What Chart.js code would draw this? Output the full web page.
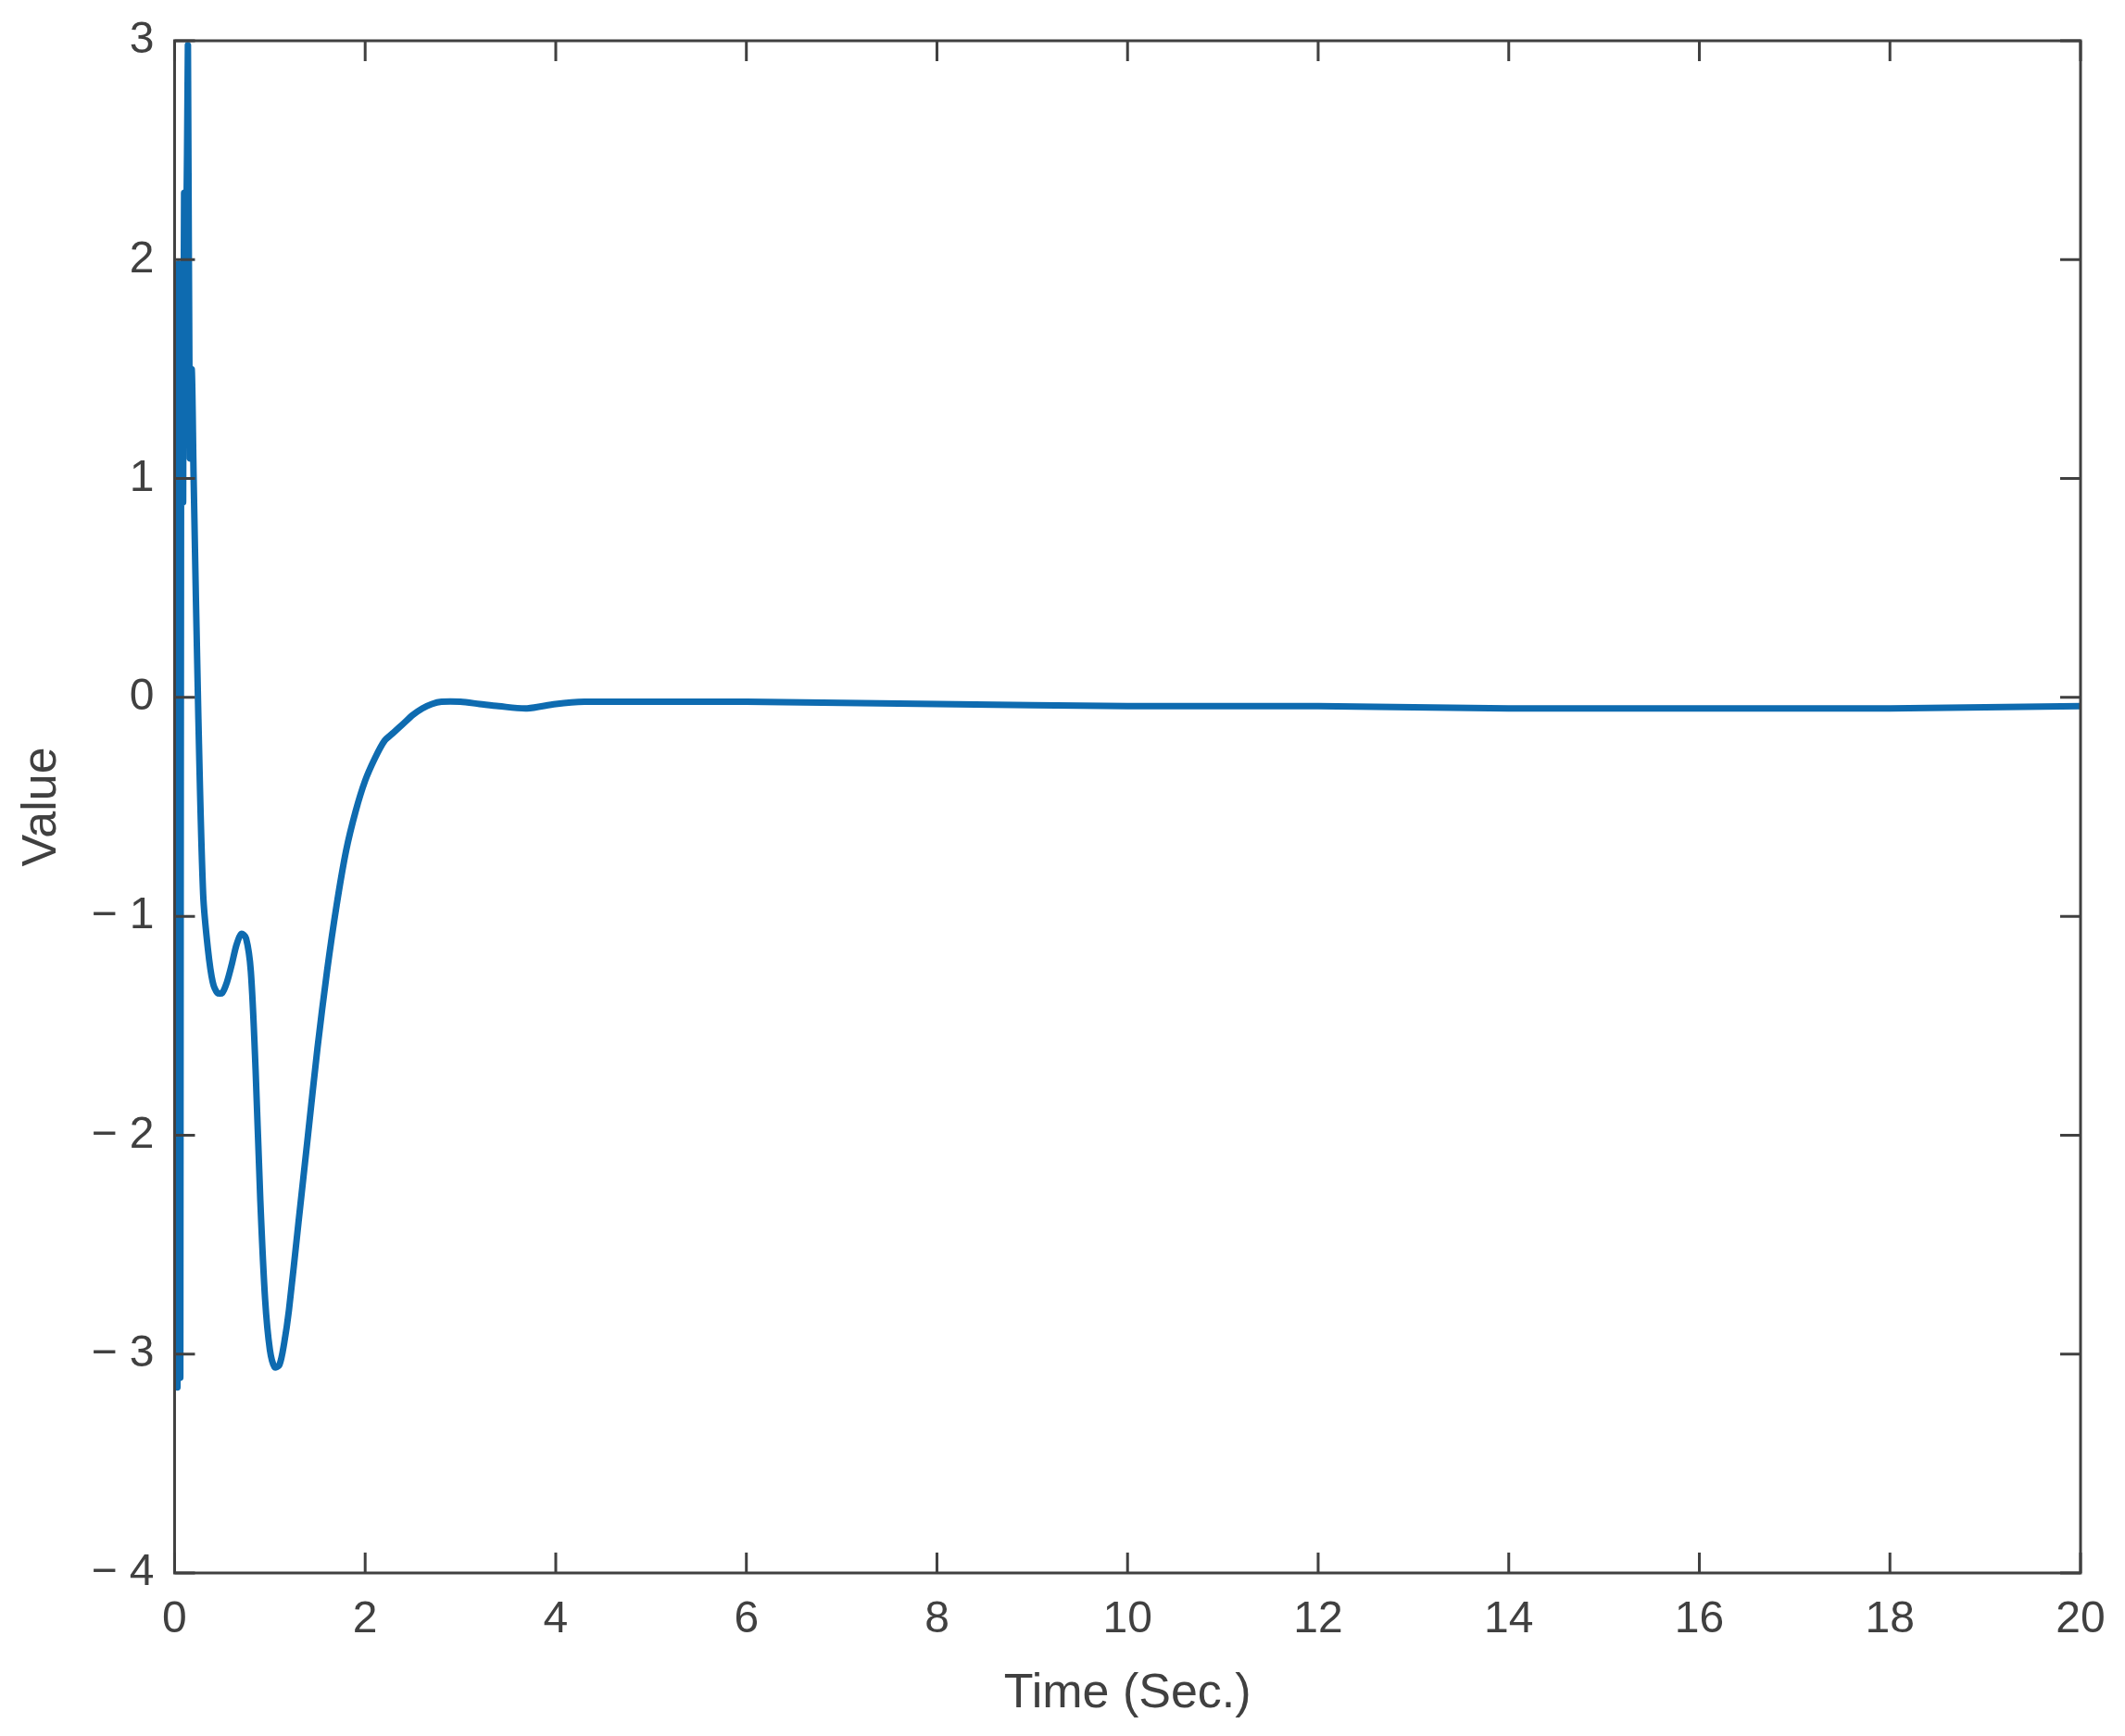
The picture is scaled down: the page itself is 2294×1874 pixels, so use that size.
<!DOCTYPE html>
<html>
<head>
<meta charset="utf-8">
<script src="https://cdn.jsdelivr.net/npm/chart.js@4.4.0/dist/chart.umd.min.js"></script>
<style>
  html, body { margin: 0; padding: 0; background: #fff; }
  #wrap { width: 2294px; height: 1874px; }
</style>
</head>
<body>
<div id="wrap"><canvas id="grafico" width="2294" height="1874"></canvas></div>
<script>
// Dados
const tempo = [0, 0.01, 0.02, 0.03, 0.04, 0.05, 0.06, 0.07, 0.08, 0.09, 0.1, 0.12, 0.14, 0.16, 0.18, 0.2, 0.25, 0.3, 0.35, 0.4, 0.45, 0.5, 0.55, 0.6, 0.65, 0.7, 0.75, 0.8, 0.85, 0.9, 0.95, 1.0, 1.05, 1.1, 1.15, 1.2, 1.3, 1.4, 1.5, 1.6, 1.7, 1.8, 1.9, 2.0, 2.1, 2.2, 2.3, 2.4, 2.5, 2.6, 2.7, 2.8, 3.0, 3.2, 3.4, 3.7, 4.0, 4.3, 5, 6, 8, 10, 12, 14, 16, 18, 20];
const valor = [0, 1.95, 1.2, -3.15, 1.95, 0.5, -3.1, 1.9, 1.2, 0.9, 2.3, 2.0, 2.98, 1.1, 1.5, 1.0, -0.1, -0.9, -1.15, -1.3, -1.35, -1.35, -1.3, -1.22, -1.13, -1.08, -1.1, -1.25, -1.7, -2.3, -2.75, -2.98, -3.06, -3.05, -2.95, -2.8, -2.4, -2.0, -1.6, -1.25, -0.95, -0.7, -0.52, -0.38, -0.28, -0.2, -0.16, -0.12, -0.08, -0.05, -0.03, -0.02, -0.02, -0.03, -0.04, -0.05, -0.03, -0.02, -0.02, -0.02, -0.03, -0.04, -0.04, -0.05, -0.05, -0.05, -0.04];
const ticksX = [0, 2, 4, 6, 8, 10, 12, 14, 16, 18, 20];
const ticksY = [-4, -3, -2, -1, 0, 1, 2, 3];

const cinza = '#404040';

// Moldura e marcas internas ao estilo MATLAB
const moldura = {
  id: 'moldura',
  afterDraw(chart) {
    const { ctx, chartArea: a, scales: { x, y } } = chart;
    ctx.save();
    ctx.strokeStyle = cinza;
    ctx.lineWidth = 3;
    ctx.strokeRect(a.left, a.top, a.right - a.left, a.bottom - a.top);
    const L = 22;
    ticksX.forEach(v => {
      const px = x.getPixelForValue(v);
      ctx.beginPath();
      ctx.moveTo(px, a.bottom); ctx.lineTo(px, a.bottom - L);
      ctx.moveTo(px, a.top); ctx.lineTo(px, a.top + L);
      ctx.stroke();
    });
    ticksY.forEach(v => {
      const py = y.getPixelForValue(v);
      ctx.beginPath();
      ctx.moveTo(a.left, py); ctx.lineTo(a.left + L, py);
      ctx.moveTo(a.right, py); ctx.lineTo(a.right - L, py);
      ctx.stroke();
    });
    ctx.restore();
  }
};

new Chart(document.getElementById('grafico').getContext('2d'), {
  type: 'line',
  data: {
    datasets: [{
      data: tempo.map((t, i) => ({ x: t, y: valor[i] })),
      borderColor: '#0e6bb0',
      borderWidth: 7,
      pointRadius: 0,
      tension: 0.3,
      fill: false
    }]
  },
  options: {
    responsive: false,
    animation: false,
    layout: { padding: { top: 44, right: 48, left: 10, bottom: 10 } },
    plugins: { legend: { display: false }, tooltip: { enabled: false } },
    scales: {
      x: {
        type: 'linear', min: 0, max: 20,
        afterBuildTicks: s => { s.ticks = ticksX.map(v => ({ value: v })); },
        grid: { display: false }, border: { display: false },
        ticks: { color: cinza, font: { family: 'Liberation Sans', size: 48 }, padding: 14, maxRotation: 0 },
        title: { display: true, text: 'Time (Sec.)', color: cinza, font: { family: 'Liberation Sans', size: 52 }, padding: { top: 6 } }
      },
      y: {
        min: -4, max: 3,
        afterBuildTicks: s => { s.ticks = ticksY.map(v => ({ value: v })); },
        grid: { display: false }, border: { display: false },
        ticks: { color: cinza, font: { family: 'Liberation Sans', size: 48 }, padding: 14,
          callback: v => v < 0 ? '\u2212 ' + Math.abs(v) : String(v) },
        title: { display: true, text: 'Value', color: cinza, font: { family: 'Liberation Sans', size: 52 }, padding: { bottom: 8 } }
      }
    }
  },
  plugins: [moldura]
});
</script>
</body>
</html>
